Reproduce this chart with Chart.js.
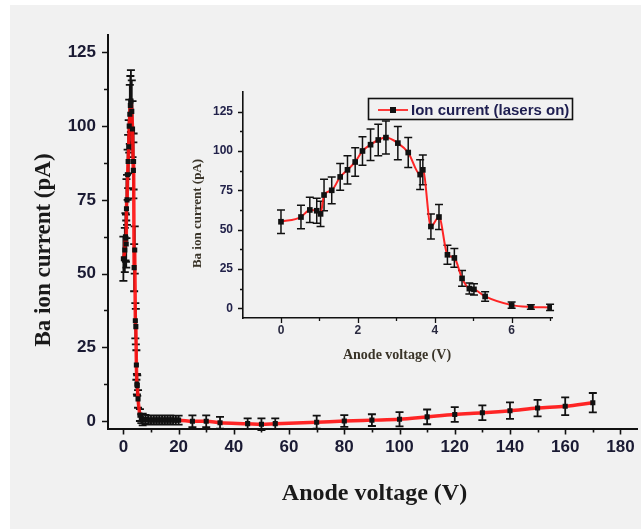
<!DOCTYPE html>
<html>
<head>
<meta charset="utf-8">
<title>Ba ion current vs anode voltage</title>
<script src="https://cdn.jsdelivr.net/npm/chart.js@4.4.0/dist/chart.umd.min.js"></script>
<style>
  html, body { margin: 0; padding: 0; background: #fff; overflow: hidden; }
  #wrap { position: relative; width: 641px; height: 529px; }
  #panel { position: absolute; left: 10px; top: 5px; right: 0; bottom: 0; background: #f1f1f1; }
  canvas { position: absolute; left: 0; top: 0; }
</style>
</head>
<body>
<div id="wrap">
  <div id="panel"></div>
  <canvas id="mainChart" width="641" height="529"></canvas>
  <canvas id="insetChart" width="641" height="529"></canvas>
</div>
<script>
// low voltage part of the scan (shown in the inset and in the big plot)
const lowVoltage = [0, 0.52, 0.75, 0.93, 1.03, 1.12, 1.32, 1.54, 1.73, 1.93, 2.12, 2.33, 2.53, 2.73, 3.04, 3.31, 3.62, 3.69, 3.9, 4.11, 4.33, 4.51, 4.71, 4.9, 5.02, 5.31, 6, 6.5, 7];
const lowCurrent = [55, 58, 62.5, 62, 60, 72, 75, 83.5, 88, 93, 100, 104, 107, 108.5, 105, 99, 85, 88, 52, 58, 34, 32, 19, 12.5, 12, 7.5, 2, 0.8, 0.5];
const lowError   = [7.5, 7.5, 8, 8, 8, 10, 8.5, 8.5, 9, 9, 9, 10, 10, 10.5, 10.5, 9.5, 9.5, 9.5, 8, 8, 6, 6, 5, 3.5, 3.5, 3, 2, 1.5, 2];

// rest of the scan, big plot only
const highVoltage = [8, 9, 10, 11, 12, 13, 14, 15, 16, 17, 18, 19, 20, 25, 30, 35, 45, 50, 55, 70, 80, 90, 100, 110, 120, 130, 140, 150, 160, 170];
const highCurrent = [0.6, 0.4, 0.3, 0.4, 0.3, 0.4, 0.3, 0.4, 0.3, 0.4, 0.3, 0.3, 0.3, -0.1, -0.1, -0.6, -0.9, -1.1, -0.9, -0.4, 0, 0.3, 0.6, 1.4, 2.2, 2.8, 3.5, 4.4, 5, 6.2];
const highError   = [1.5, 1.5, 1.5, 1.5, 1.5, 1.5, 1.5, 1.5, 1.5, 1.5, 1.5, 1.5, 1.5, 2, 2, 2, 1.8, 2, 1.8, 2.2, 2, 2, 2.4, 2.5, 2.5, 2.5, 2.8, 2.8, 3, 3.3];

// tick labels
const mainXTicks = [0, 20, 40, 60, 80, 100, 120, 140, 160, 180];
const mainXMinor = [10, 30, 50, 70, 90, 110, 130, 150, 170];
const mainYTicks = [0, 25, 50, 75, 100, 125];
const mainYMinor = [12.5, 37.5, 62.5, 87.5, 112.5];
const insetXTicks = [0, 2, 4, 6];
const insetXMinor = [1, 3, 5, 7];
const insetYTicks = [0, 25, 50, 75, 100, 125];
const insetYMinor = [12.5, 37.5, 62.5, 87.5, 112.5];

const RED = 'rgba(255, 20, 20, 0.92)';
const INK = '#111';

const toPoints = (xs, ys) => xs.map((v, i) => ({x: v, y: ys[i]}));
const mainPoints = toPoints(lowVoltage.concat(highVoltage), lowCurrent.concat(highCurrent));
const mainErrors = lowError.concat(highError);
const insetPoints = toPoints(lowVoltage, lowCurrent);

function errorBars(errors, cap, width) {
  return {
    id: 'errorBars',
    beforeDatasetsDraw(chart) {
      const {ctx, scales: {x, y}} = chart;
      const pts = chart.data.datasets[0].data;
      ctx.save();
      ctx.strokeStyle = INK;
      ctx.lineWidth = width;
      ctx.beginPath();
      pts.forEach((p, i) => {
        const px = x.getPixelForValue(p.x);
        const top = y.getPixelForValue(p.y + errors[i]);
        const bot = y.getPixelForValue(p.y - errors[i]);
        ctx.moveTo(px, top); ctx.lineTo(px, bot);
        ctx.moveTo(px - cap / 2, top); ctx.lineTo(px + cap / 2, top);
        ctx.moveTo(px - cap / 2, bot); ctx.lineTo(px + cap / 2, bot);
      });
      ctx.stroke();
      ctx.restore();
    }
  };
}

// outward tick marks, major + minor
function tickMarks(c) {
  return {
    id: 'tickMarks',
    afterDraw(chart) {
      const {ctx, chartArea: a, scales: {x, y}} = chart;
      ctx.save();
      ctx.strokeStyle = INK;
      ctx.lineWidth = c.width;
      ctx.beginPath();
      const xt = (vals, len) => vals.forEach(v => { const p = Math.round(x.getPixelForValue(v)) + 0.5; ctx.moveTo(p, a.bottom); ctx.lineTo(p, a.bottom + len); });
      const yt = (vals, len) => vals.forEach(v => { const p = Math.round(y.getPixelForValue(v)) + 0.5; ctx.moveTo(a.left, p); ctx.lineTo(a.left - len, p); });
      xt(c.xMajor, c.major); xt(c.xMinor, c.minor);
      yt(c.yMajor, c.major); yt(c.yMinor, c.minor);
      ctx.stroke();
      ctx.restore();
    }
  };
}

function axisTitles(list) {
  return {
    id: 'axisTitles',
    afterDraw(chart) {
      const ctx = chart.ctx;
      list.forEach(t => {
        ctx.save();
        ctx.translate(t.x, t.y);
        if (t.rotate) ctx.rotate(-Math.PI / 2);
        ctx.font = t.font;
        ctx.fillStyle = t.color;
        ctx.textAlign = 'center';
        ctx.textBaseline = 'middle';
        ctx.fillText(t.text, 0, 0);
        ctx.restore();
      });
    }
  };
}

const insetLegend = {
  id: 'insetLegend',
  afterDraw(chart) {
    const ctx = chart.ctx;
    ctx.save();
    ctx.strokeStyle = INK;
    ctx.lineWidth = 1.6;
    ctx.strokeRect(368.5, 98.5, 204, 21);
    ctx.strokeStyle = RED;
    ctx.lineWidth = 1.8;
    ctx.beginPath(); ctx.moveTo(378, 110); ctx.lineTo(408, 110); ctx.stroke();
    ctx.fillStyle = INK;
    ctx.fillRect(390, 107, 6, 6);
    ctx.font = 'bold 15px "Liberation Sans", Arial, sans-serif';
    ctx.fillStyle = '#1e1e50';
    ctx.textBaseline = 'middle';
    ctx.fillText('Ion current (lasers on)', 411, 110.5);
    ctx.restore();
  }
};

function setTicks(vals) {
  return s => { s.ticks = vals.map(v => ({value: v})); };
}
function fixSize(prop, val) {
  return s => { s[prop] = val; s.paddingLeft = 0; s.paddingRight = 0; s.paddingTop = 0; s.paddingBottom = 0; };
}

const mainTickFont = {family: '"Liberation Sans", Arial, sans-serif', size: 17, weight: 'bold'};
const insetTickFont = {family: '"Liberation Sans", Arial, sans-serif', size: 12, weight: 'bold'};

new Chart(document.getElementById('mainChart'), {
  type: 'line',
  data: {
    datasets: [{
      data: mainPoints,
      borderColor: RED,
      borderWidth: 3.5,
      cubicInterpolationMode: 'monotone',
      pointStyle: 'rect',
      pointRadius: 3.6,
      pointBackgroundColor: INK,
      pointBorderColor: INK,
      pointBorderWidth: 0
    }]
  },
  options: {
    responsive: false,
    animation: false,
    events: [],
    layout: {padding: {top: 35, left: 0, right: 0, bottom: 0}},
    plugins: {legend: {display: false}, tooltip: {enabled: false}},
    scales: {
      x: {
        type: 'linear', min: -5.57, max: 186,
        afterBuildTicks: setTicks(mainXTicks),
        afterFit: fixSize('height', 100.5),
        grid: {display: false, drawTicks: false},
        border: {display: true, color: INK, width: 2},
        ticks: {font: mainTickFont, color: '#1a1a33', padding: 9}
      },
      y: {
        type: 'linear', min: -2.54, max: 130.9,
        afterBuildTicks: setTicks(mainYTicks),
        afterFit: fixSize('width', 108),
        grid: {display: false, drawTicks: false},
        border: {display: true, color: INK, width: 2},
        ticks: {font: mainTickFont, color: '#1a1a33', padding: 12}
      }
    }
  },
  plugins: [
    errorBars(mainErrors, 8, 1.8),
    tickMarks({xMajor: mainXTicks, xMinor: mainXMinor, yMajor: mainYTicks, yMinor: mainYMinor, major: 6, minor: 4, width: 1.6}),
    axisTitles([
      {text: 'Anode voltage (V)', x: 374.5, y: 494, rotate: false, font: 'bold 24px "Liberation Serif", "Times New Roman", serif', color: '#1a1a1a'},
      {text: 'Ba ion current (pA)', x: 44, y: 250, rotate: true, font: 'bold 23px "Liberation Serif", "Times New Roman", serif', color: '#1a1a1a'}
    ])
  ]
});

new Chart(document.getElementById('insetChart'), {
  type: 'line',
  data: {
    datasets: [{
      data: insetPoints,
      borderColor: RED,
      borderWidth: 2,
      cubicInterpolationMode: 'monotone',
      pointStyle: 'rect',
      pointRadius: 4,
      pointBackgroundColor: INK,
      pointBorderColor: INK,
      pointBorderWidth: 0
    }]
  },
  options: {
    responsive: false,
    animation: false,
    events: [],
    layout: {padding: {top: 92, left: 170, right: 89, bottom: 0}},
    plugins: {legend: {display: false}, tooltip: {enabled: false}},
    scales: {
      x: {
        type: 'linear', min: -0.988, max: 7.05,
        afterBuildTicks: setTicks(insetXTicks),
        afterFit: fixSize('height', 211),
        grid: {display: false, drawTicks: false},
        border: {display: true, color: INK, width: 1.6},
        ticks: {font: insetTickFont, color: '#2a2a40', padding: 5}
      },
      y: {
        type: 'linear', min: -6.2, max: 137.5,
        afterBuildTicks: setTicks(insetYTicks),
        afterFit: fixSize('width', 73),
        grid: {display: false, drawTicks: false},
        border: {display: true, color: INK, width: 1.6},
        ticks: {font: insetTickFont, color: '#22224a', padding: 10}
      }
    }
  },
  plugins: [
    errorBars(lowError, 8, 1.5),
    tickMarks({xMajor: insetXTicks, xMinor: insetXMinor, yMajor: insetYTicks, yMinor: insetYMinor, major: 5, minor: 3, width: 1.3}),
    axisTitles([
      {text: 'Anode voltage (V)', x: 397, y: 355, rotate: false, font: 'bold 14px "Liberation Serif", "Times New Roman", serif', color: '#3a3428'},
      {text: 'Ba ion current (pA)', x: 198, y: 213.5, rotate: true, font: 'bold 13px "Liberation Serif", "Times New Roman", serif', color: '#3a3428'}
    ]),
    insetLegend
  ]
});
</script>
</body>
</html>
